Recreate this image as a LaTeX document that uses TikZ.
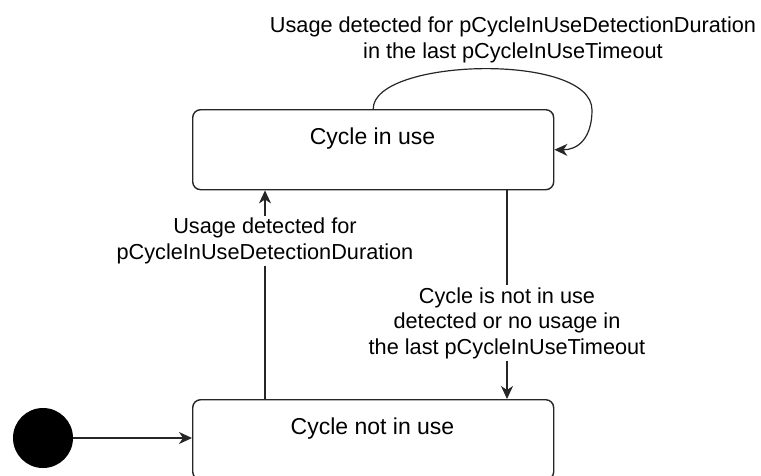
\documentclass[tikz,border=0pt]{standalone}
\usepackage{fontspec}
\setmainfont{Liberation Sans}
\usetikzlibrary{arrows.meta}
\tikzset{
  statebox/.style={draw=black!85, line width=1.4pt, rounded corners=8pt, fill=white,
    minimum width=361pt, minimum height=80pt, inner sep=0pt, anchor=north west},
  statetext/.style={font=\fontsize{23}{26}\selectfont, anchor=center},
  elabel/.style={fill=white, align=center, inner sep=2pt, font=\fontsize{21.7}{25.5}\selectfont},
  arr/.style={draw=black!85, line width=1.2pt, -{Stealth[length=13pt,width=12pt,inset=4pt]}},
  initstate/.style={circle, fill=black, minimum size=60pt, inner sep=0pt}
}
\begin{document}
\begin{tikzpicture}[x=1pt,y=-1pt]
\useasboundingbox (0,0) rectangle (761,475);
\clip (0,0) rectangle (761,475);
\node[statebox] (top) at (192,109) {};
\node[statetext] (toptxt) at (372.5,139) {Cycle in use};
\node[statebox] (bot) at (192,399) {};
\node[statetext] (bottxt) at (372.5,429) {Cycle not in use};
\node[initstate] (init) at (43,438) {};
\coordinate (c1) at (265,0);
\coordinate (c2) at (507,0);
\draw[arr] (init.east) -- (init -| bot.west);
\draw[arr] (bot.north -| c1) -- (top.south -| c1);
\draw[arr] (top.south -| c2) -- (bot.north -| c2);
\draw[arr] (top.north) .. controls (373,58) and (592,52) .. (592,110) .. controls (592,138) and (578,150) .. (top.east);
\node[elabel] (l1) at (265,241) {Usage detected for\\pCycleInUseDetectionDuration};
\node[elabel] (l2) at (507,323) {Cycle is not in use\\detected or no usage in\\the last pCycleInUseTimeout};
\node[elabel] (l3) at (513,40) {Usage detected for pCycleInUseDetectionDuration\\in the last pCycleInUseTimeout};
\end{tikzpicture}
\end{document}
